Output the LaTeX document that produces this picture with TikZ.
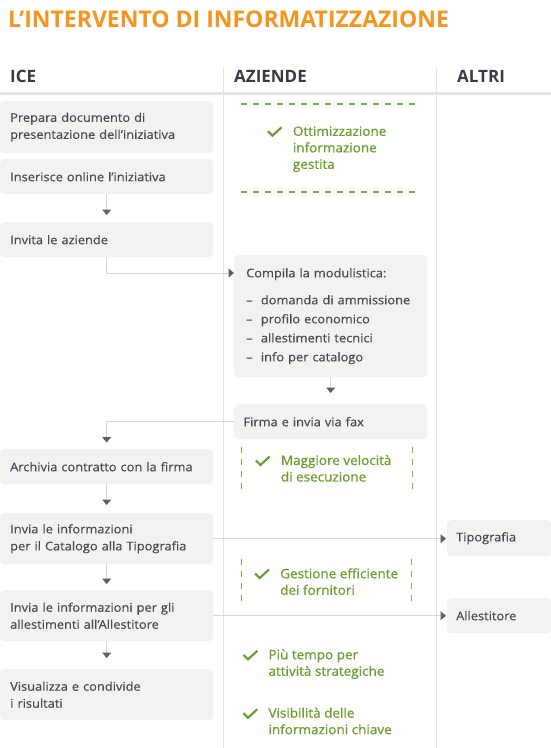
\documentclass[tikz,border=0pt]{standalone}
\usepackage{fontspec}
\setmainfont{Open Sans}[FakeStretch=1.07, FakeBold=0.4]
\newfontfamily\ttlfont{Open Sans}[Ligatures=TeX]
\newfontfamily\goodfont{Open Sans}[Ligatures=TeX, FakeStretch=1.04, FakeBold=0.9]
\usepackage{tikz}
\usetikzlibrary{arrows.meta,positioning,calc}
\definecolor{cttl}{RGB}{247,148,29}
\definecolor{chead}{RGB}{58,58,70}
\definecolor{ctext}{RGB}{74,74,85}
\definecolor{cbox}{RGB}{242,242,242}
\definecolor{crule}{RGB}{228,228,228}
\definecolor{cline}{RGB}{214,214,214}
\definecolor{ctip}{RGB}{95,95,107}
\definecolor{cgood}{RGB}{106,160,51}
\definecolor{cdash}{RGB}{124,179,66}
\newcommand{\bodyfont}{\fontsize{12}{17}\selectfont}
\newcommand{\itm}{\makebox[14.7pt][l]{–}}

\begin{document}
\begin{tikzpicture}[x=1pt,y=-1pt,
  box/.style={fill=cbox, rounded corners=4pt, anchor=north west, inner xsep=10pt,
    inner ysep=0pt, align=left, font=\bodyfont, text=ctext},
  head/.style={anchor=base west, inner sep=0pt, text=chead,
    font=\ttlfont\fontsize{17}{20}\selectfont\bfseries},
  flow/.style={draw=cline, line width=1pt, -{Triangle[width=9pt,length=5.5pt,color=ctip]}},
  good/.style={anchor=north west, inner sep=0pt, align=left, text=cgood,
    font=\goodfont\fontsize{13}{16.5}\selectfont},
  gdash/.style={draw=cdash, line width=1.2pt, dash pattern=on 6pt off 6pt},
  chk/.pic={\draw[cgood, line width=2.2pt] (-4.5,-4.5) -- (0,0) -- (9.3,-8.5);}
]
  \fill[white] (0,0) rectangle (551,748);
  \useasboundingbox (0,0) rectangle (551,748);

  % title and columns
  \node[anchor=base west, inner sep=0pt, text=cttl, font=\ttlfont\fontsize{23}{27}\selectfont\bfseries]
    (title) at (8,27.4) {L’INTERVENTO DI INFORMATIZZAZIONE};
  \node[head] (hice) at (10,82.5) {ICE};
  \node[head] (hazi) at (234,82.5) {AZIENDE};
  \node[head] (halt) at (457,82.5) {ALTRI};
  \draw[crule, line width=3pt] (0,93) -- (551,93);
  \draw[crule, line width=1pt] (223.5,68) -- (223.5,748);
  \draw[crule, line width=1pt] (436,68) -- (436,748);

  % ICE
  \node[box, text width=193pt, minimum height=52pt] (prep) at (0,101)
    {Prepara documento di\\presentazione dell'iniziativa};
  \node[box, text width=193pt, minimum height=35pt] (online) at (0,159)
    {Inserisce online l'iniziativa};
  \node[box, text width=193pt, minimum height=35pt] (invita) at (0,222)
    {Invita le aziende};
  \node[box, text width=193pt, minimum height=35pt] (archivia) at (0,449)
    {Archivia contratto con la firma};
  \node[box, text width=193pt, minimum height=51pt] (catalogo) at (0,513)
    {Invia le informazioni\\per il Catalogo alla Tipografia};
  \node[box, text width=193pt, minimum height=51pt] (allest) at (0,590)
    {Invia le informazioni per gli\\allestimenti all'Allestitore};
  \node[box, text width=193pt, minimum height=51pt] (risult) at (0,669)
    {Visualizza e condivide\\i risultati};

  % AZIENDE
  \node[box, inner xsep=12pt, text width=169pt, minimum height=122pt,
    font=\fontsize{12}{19}\selectfont] (compila) at (234,255)
    {Compila la modulistica:\\[8pt]
     \itm domanda di ammissione\\
     \itm profilo economico\\
     \itm allestimenti tecnici\\
     \itm info per catalogo};
  \node[box, inner xsep=9.3pt, text width=174.4pt, minimum height=35pt] (firma) at (234,404)
    {Firma e invia via fax};

  % ALTRI
  \node[box, inner xsep=9pt, text width=86pt, minimum height=36pt] (tipo) at (447,520)
    {Tipografia};
  \node[box, inner xsep=9pt, text width=86pt, minimum height=35pt] (allestr) at (447,598)
    {Allestitore};

  % flow
  \draw[flow, shorten >=7pt] (online) -- (invita);
  \draw[flow] (invita.south) |- ([yshift=-18pt]compila.north west);
  \draw[flow, shorten >=11pt] (compila) -- (firma);
  \draw[flow, shorten >=6.5pt] (firma.west) -| (archivia.north);
  \draw[flow, shorten >=8pt] (archivia) -- (catalogo);
  \draw[flow, shorten >=1pt] (catalogo.east) -- (catalogo.east -| tipo.west);
  \draw[flow, shorten >=6pt] (catalogo) -- (allest);
  \draw[flow, shorten >=1pt] (allest.east) -- (allest.east -| allestr.west);
  \draw[flow, shorten >=11pt] (allest) -- (risult);

  % benefits
  \draw[gdash] (241,104) -- (415,104);
  \draw[gdash] (241,192) -- (415,192);
  \draw[gdash] (241.5,447) -- (241.5,489);
  \draw[gdash] (412.5,447) -- (412.5,489);
  \draw[gdash] (241.5,559) -- (241.5,604);
  \draw[gdash] (411.6,559) -- (411.6,604);
  \node[good] (gott) at (292.7,126.1) {Ottimizzazione\\informazione\\gestita};
  \node[good] (gvel) at (280.7,454.8) {Maggiore velocità\\di esecuzione};
  \node[good] (gfor) at (280,568.1) {Gestione efficiente\\dei fornitori};
  \node[good] (gtem) at (268.3,649.1) {Più tempo per\\attività strategiche};
  \node[good] (gvis) at (268.3,707.5) {Visibilità delle\\informazioni chiave};
  \foreach \g/\d in {gott/9.6,gvel/10.2,gfor/9.9,gtem/10.2,gvis/10.2}
    \pic at ([xshift=-20.3pt,yshift=-\d pt]\g.north west) {chk};
\end{tikzpicture}
\end{document}
